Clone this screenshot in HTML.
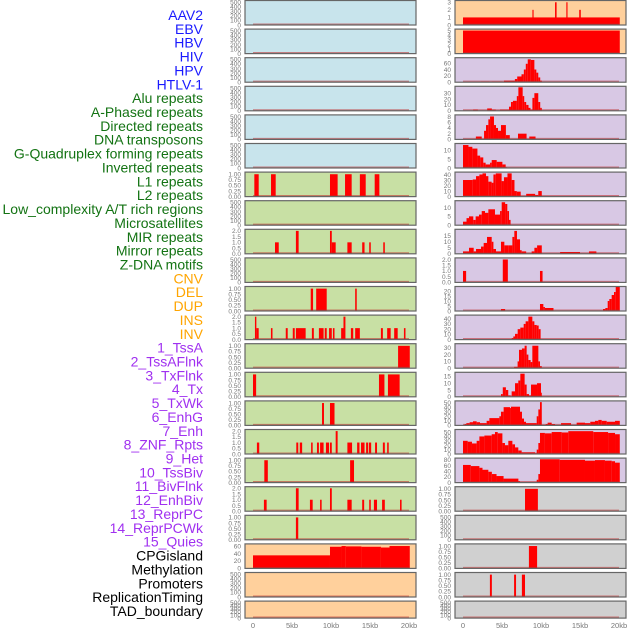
<!DOCTYPE html>
<html><head><meta charset="utf-8"><style>
html,body{margin:0;padding:0;background:#fff;width:630px;height:630px;overflow:hidden}
svg{display:block;font-family:"Liberation Sans",sans-serif}
</style></head><body>
<svg id="chart" width="630" height="630" viewBox="0 0 630 630" xmlns="http://www.w3.org/2000/svg">
<g id="labels"></g>
<g id="panels"></g>
<g id="xaxes"></g>
</svg>
<script>
// ---- labels ----
const labelNames = ["AAV2","EBV","HBV","HIV","HPV","HTLV-1","Alu repeats","A-Phased repeats","Directed repeats","DNA transposons","G-Quadruplex forming repeats","Inverted repeats","L1 repeats","L2 repeats","Low_complexity A/T rich regions","Microsatellites","MIR repeats","Mirror repeats","Z-DNA motifs","CNV","DEL","DUP","INS","INV","1_TssA","2_TssAFlnk","3_TxFlnk","4_Tx","5_TxWk","6_EnhG","7_Enh","8_ZNF_Rpts","9_Het","10_TssBiv","11_BivFlnk","12_EnhBiv","13_ReprPC","14_ReprPCWk","15_Quies","CPGisland","Methylation","Promoters","ReplicationTiming","TAD_boundary"];
const labelGroups = [6,13,5,15,5];
const groupColors = ["#1a1aff","#137313","#ffa500","#a030f0","#000000"];
const xTickValues = [0,5,10,15,20];
const xTickLabels = ["0","5kb","10kb","15kb","20kb"];

// ---- series (start kb, end kb, value) ----
const segL6 = [[0.17,0.73,1],[2.31,2.91,1],[9.87,10.85,1],[11.8,12.65,1],[13.7,14.45,1],[15.6,16.2,1]];
const segL8 = [[2.82,3.3,1],[5.5,5.85,2],[9.87,10.1,2],[10.1,10.6,1],[12.1,12.65,1],[14.0,14.3,1],[14.9,15.1,1],[16.7,16.9,1]];
const segL10 = [[7.4,7.7,1],[8.1,9.45,1],[13.1,13.3,1]];
const segL11 = [[0.25,0.43,2],[0.43,0.73,1],[2.3,2.5,1],[4.2,4.45,1],[5.1,5.35,1],[5.5,6.75,1],[7.55,7.8,1],[8.45,9.05,1],[9.2,9.45,1],[9.75,10.1,1],[10.25,10.45,1],[11.3,11.6,1],[11.6,11.85,2],[12.55,12.85,1],[13.1,13.7,1],[16.4,16.65,1],[17.2,17.65,1],[18.1,18.55,1],[19.35,19.55,1]];
const segL12 = [[18.6,20.1,1]];
const segL13 = [[0,0.4,1],[16.15,16.85,1],[17.3,18.8,1]];
const segL14 = [[8.85,9.1,1],[9.87,10.45,1]];
const segL15 = [[0.5,0.8,1],[5.55,5.8,1],[6.0,6.3,1],[7.45,7.65,1],[8.2,8.45,1],[8.6,9.05,1],[9.35,9.75,1],[9.87,10.1,1],[10.6,10.85,2],[12.1,12.7,1],[13.35,13.65,1],[13.85,14.3,1],[14.5,14.75,1],[14.85,15.15,1],[15.65,15.9,1],[16.65,16.9,1],[17.2,17.4,1]];
const segL16 = [[1.45,1.9,1],[12.45,12.95,1]];
const segL17 = [[1.4,1.75,1],[5.5,5.85,2],[7.3,7.65,1],[8.6,8.8,1],[9.87,10.1,2],[12.1,12.65,1],[14.0,14.25,1],[14.9,15.1,1],[15.5,15.9,1],[16.55,16.9,1],[18.85,19.05,1]];
const segL18 = [[5.5,5.8,1]];
const segL19 = [[0,9.87,35],[9.87,11.35,58],[11.35,11.9,60],[11.9,13.9,59],[13.9,16.4,58],[16.4,17.5,56],[17.5,20.1,60]];
const segR0 = [[0,20.1,1],[8.9,9.05,2],[11.8,12.0,3],[13.25,13.4,3],[14.9,15.1,2]];
const segR1 = [[0,20.1,5]];
const segR2 = [[2.3,3.35,2],[3.7,5.05,2],[5.25,6.65,5],[6.65,6.95,10],[6.95,7.5,18],[7.5,7.8,25],[7.8,8.05,40],[8.05,8.3,58],[8.3,8.7,72],[8.7,9.15,70],[9.15,9.4,40],[9.4,9.65,30],[9.65,9.9,15],[9.9,10.1,5]];
const segR3 = [[1.3,1.9,2],[3.1,3.7,4],[3.7,4.2,2],[4.75,5.9,2],[5.9,6.15,7],[6.15,6.4,15],[6.4,6.9,17],[6.9,7.1,25],[7.1,7.65,40],[7.65,7.85,25],[7.85,8.1,15],[8.1,8.4,10],[8.4,8.65,5],[8.65,8.9,2],[8.9,9.15,22],[9.15,9.65,30],[9.65,9.9,15],[9.9,10.1,5]];
const segR4 = [[1.65,2.4,1],[2.7,2.95,3],[2.95,3.25,5],[3.25,3.47,7],[3.47,3.97,8],[3.97,4.23,5],[4.23,4.49,4],[4.49,4.87,3],[4.87,5.5,5],[5.5,6.0,1.5],[7.05,8.15,2],[8.5,9.3,1]];
const segR5 = [[0,0.7,13],[0.7,1.2,12],[1.2,1.85,11],[1.85,2.2,7],[2.2,2.6,6],[2.6,2.9,3],[2.9,3.47,2],[3.47,3.68,3],[3.68,4.32,4.5],[4.32,5.05,3.5],[5.05,5.47,2],[5.47,5.6,0.5]];
const segR6 = [[0,1.25,30],[1.25,1.67,31],[1.67,2.1,37],[2.1,2.5,40],[2.5,2.95,42],[2.95,3.25,37],[3.25,3.67,27],[3.67,3.9,25],[3.9,4.2,40],[4.2,4.95,42],[4.95,5.25,28],[5.25,5.7,35],[5.7,6.24,42],[6.24,6.6,30],[6.6,6.9,10],[6.9,7.4,9],[8.1,9.25,5],[9.25,9.65,3],[9.65,10.1,10]];
const segR7 = [[0,0.45,2],[0.45,0.77,4],[0.77,1.32,5],[1.32,1.62,3],[1.62,2.05,5],[2.05,2.4,6],[2.4,2.82,8],[2.82,3.25,7],[3.25,4.1,9],[4.1,4.75,6],[4.75,4.96,8],[4.96,5.4,13],[5.4,5.68,12],[5.68,5.9,8],[5.9,6.1,3]];
const segR8 = [[0,0.77,2],[0.77,1.37,5],[1.37,1.67,2],[1.67,2.31,4],[2.31,2.65,6],[2.65,3.08,9],[3.08,3.68,14],[3.68,3.9,10],[3.9,4.23,4],[4.23,4.87,2],[4.87,5.3,10],[5.3,5.8,7],[5.8,6.33,7],[6.33,6.58,14],[6.58,6.92,19],[6.92,7.31,12],[7.31,7.52,3],[7.52,8.1,2],[8.8,9.15,2],[9.15,9.5,5],[9.5,10.1,7],[12.45,15.0,1.5],[16.15,17.1,2]];
const segR9 = [[0,0.4,1],[5.1,5.75,2],[9.87,10.2,1]];
const segR10 = [[4.87,5.4,2],[9.87,10.3,7],[10.3,10.5,4],[10.5,11.6,3],[17.95,18.25,2],[18.25,18.55,3],[18.55,18.76,10],[18.76,19.06,12],[19.06,19.36,16],[19.36,19.58,19],[19.58,20.1,24]];
const segR11 = [[6.25,6.45,3],[6.45,6.67,6],[6.67,7.01,11],[7.01,7.35,20],[7.35,7.78,23],[7.78,8.03,30],[8.03,8.38,35],[8.38,8.89,44],[8.89,9.15,35],[9.15,9.45,28],[9.45,9.7,27],[9.7,9.95,20]];
const segR12 = [[6.55,7.0,2],[7.0,7.18,10],[7.18,7.56,27],[7.56,7.9,29],[7.9,8.16,33],[8.16,8.38,20],[8.38,8.67,12],[8.67,8.89,9],[8.89,9.66,33],[9.66,9.87,10],[9.87,10.1,3]];
const segR13 = [[4.87,5.1,2],[5.1,5.5,7],[5.5,5.8,5],[5.8,6.1,1],[6.24,6.67,4],[6.67,7.09,10],[7.09,7.35,12],[7.35,7.9,17],[7.9,8.16,9],[8.16,8.46,2],[8.46,8.72,1],[8.72,9.49,9],[9.49,10.0,10],[10.0,10.1,3]];
const segR14 = [[0.2,0.43,3],[0.43,0.85,5],[0.85,1.28,7],[1.28,1.75,9],[1.75,2.18,7],[2.18,3.03,5],[3.03,3.38,10],[3.38,4.66,16],[4.66,4.87,20],[4.87,5.21,30],[5.21,6.03,40],[6.03,6.15,38],[6.15,7.31,41],[7.31,7.56,30],[7.56,7.82,15],[7.82,8.08,8],[8.08,9.45,5],[9.45,9.66,20],[9.66,9.87,35],[9.87,10.1,51],[10.6,10.85,3],[10.85,11.37,6],[11.37,11.8,3],[12.57,13.85,5],[14.57,15.64,6],[15.64,16.32,5],[16.32,16.92,8],[16.92,17.35,10],[17.35,17.78,12],[17.78,18.42,10],[18.42,19.49,8],[19.49,20.1,10]];
const segR15 = [[0,0.6,30],[0.6,1.15,28],[1.15,1.75,24],[1.75,2.1,30],[2.1,2.74,40],[2.74,3.68,42],[3.68,4.1,45],[4.1,4.45,50],[4.45,5.05,47],[5.05,5.38,25],[5.38,5.81,20],[5.81,6.33,30],[6.33,6.67,22],[6.67,7.09,15],[7.09,7.52,8],[7.52,9.23,4],[9.23,9.45,2],[9.45,9.66,10],[9.66,9.87,25],[9.87,10.5,48],[10.5,11.37,47],[11.37,12.65,50],[12.65,13.5,49],[13.5,16.7,52],[16.7,18.6,50],[18.6,19.49,48],[19.49,20.1,45]];
const segR16 = [[0,1.0,62],[1.0,2.1,58],[2.1,2.5,52],[2.5,3.25,45],[3.25,3.7,38],[3.7,4.3,30],[4.3,5.2,23],[5.2,7.1,14],[7.1,7.3,5],[9.45,9.66,10],[9.66,9.87,30],[9.87,12.4,82],[12.4,15.64,80],[15.64,16.92,77],[16.92,18.2,79],[18.2,19.06,77],[19.06,19.49,75],[19.49,20.1,70]];
const segR17 = [[7.95,9.6,1]];
const segR19 = [[8.45,9.5,1]];
const segR20 = [[3.45,3.7,1],[6.55,6.8,1],[7.55,7.95,1]];

const T500 = [0,100,200,300,400,500], T1 = [0,0.25,0.5,0.75,1], T2 = [0,0.5,1,1.5,2];
const BLUE="#c8e4ec", GREEN="#c8e0a4", ORANGE="#ffd09c", PURPLE="#d8c8e4", GRAY="#d0d0d0";
// [column,row,background,max,ticks,decimals,series]
const panels = [];
for(let i=0;i<6;i++) panels.push([0,i,BLUE,515,T500,0,[]]);
const leftGreen = {6:[1.05,T1,2,segL6],8:[2.05,T2,1,segL8],10:[1.05,T1,2,segL10],11:[2.05,T2,1,segL11],12:[1.05,T1,2,segL12],13:[1.05,T1,2,segL13],14:[1.05,T1,2,segL14],15:[2.05,T2,1,segL15],16:[1.05,T1,2,segL16],17:[2.05,T2,1,segL17],18:[1.05,T1,2,segL18]};
for(let i=6;i<19;i++){const g=leftGreen[i]; panels.push(g?[0,i,GREEN,g[0],g[1],g[2],g[3]]:[0,i,GREEN,515,T500,0,[]]);}
panels.push([0,19,ORANGE,63,[0,20,40,60],0,segL19]);
panels.push([0,20,ORANGE,515,T500,0,[]]);
panels.push([0,21,ORANGE,515,T500,0,[]]);
panels.push([1,0,ORANGE,3.1,[0,1,2,3],0,segR0]);
panels.push([1,1,ORANGE,5.1,[0,1,2,3,4,5],0,segR1]);
panels.push([1,2,PURPLE,74,[0,20,40,60],0,segR2]);
panels.push([1,3,PURPLE,40,[0,10,20,30],0,segR3]);
panels.push([1,4,PURPLE,8.2,[0,2,4,6,8],0,segR4]);
panels.push([1,5,PURPLE,13.3,[0,5,10],0,segR5]);
panels.push([1,6,PURPLE,42.5,[0,10,20,30,40],0,segR6]);
panels.push([1,7,PURPLE,13.3,[0,5,10],0,segR7]);
panels.push([1,8,PURPLE,19.5,[0,5,10,15],0,segR8]);
panels.push([1,9,PURPLE,2.05,T2,1,segR9]);
panels.push([1,10,PURPLE,23.5,[0,5,10,15,20],0,segR10]);
panels.push([1,11,PURPLE,45,[0,10,20,30,40],0,segR11]);
panels.push([1,12,PURPLE,34.5,[0,10,20,30],0,segR12]);
panels.push([1,13,PURPLE,17.3,[0,5,10,15],0,segR13]);
panels.push([1,14,PURPLE,51.5,[0,10,20,30,40,50],0,segR14]);
panels.push([1,15,PURPLE,53.5,[0,10,20,30,40,50],0,segR15]);
panels.push([1,16,PURPLE,82.5,[0,20,40,60,80],0,segR16]);
panels.push([1,17,GRAY,1.05,T1,2,segR17]);
panels.push([1,18,GRAY,515,T500,0,[]]);
panels.push([1,19,GRAY,1.05,T1,2,segR19]);
panels.push([1,20,GRAY,1.05,T1,2,segR20]);
panels.push([1,21,GRAY,515,T500,0,[]]);

const NS="http://www.w3.org/2000/svg";
function mk(tag,attrs,parent){const e=document.createElementNS(NS,tag);for(const k in attrs)e.setAttribute(k,attrs[k]);parent.appendChild(e);return e;}
function xScale(col,kb){return (col?463:253)+kb*7.8;}
function rowTop(r){return 0.5+r*28.6;}
function rowH(r){return r===21?17:24.5;}

// labels
const lg=document.getElementById('labels');
let li=0;
labelGroups.forEach((n,gi)=>{for(let k=0;k<n;k++){const t=mk('text',{x:203,y:20+li*13.86,'text-anchor':'end','font-size':'14',fill:groupColors[gi]},lg);


t.textContent=labelNames[li];li++;}});

const pg=document.getElementById('panels');
panels.forEach(p=>{
  const [col,row,bg,max,ticks,dec,segs]=p;
  const x0=col?455:245, w=171, top=rowTop(row), h=rowH(row), bot=top+h;
  const yS=v=>bot-(v/max)*(h-1);
  const g=mk('g',{},pg);
  
  
  mk('rect',{x:x0,y:top,width:w,height:h,fill:bg},g);
  segs.forEach(s=>{
    const r=mk('rect',{x:xScale(col,s[0]),y:yS(s[2]),width:Math.max(0.8,xScale(col,s[1])-xScale(col,s[0])),height:bot-yS(s[2]),fill:'#ff0000'},g);
    
    
  });
  mk('line',{x1:xScale(col,0),x2:xScale(col,20),y1:bot-0.8,y2:bot-0.8,stroke:'rgba(190,40,40,0.55)','stroke-width':1.5},g);
  mk('rect',{x:x0,y:top,width:w,height:h,fill:'none',stroke:'#666','stroke-width':1.2},g);
  ticks.forEach(v=>{
    const t=mk('text',{x:x0-4,y:yS(v)+2.3,'text-anchor':'end','font-size':'6.5',fill:'#777'},g);
    
    
    t.textContent=v.toFixed(dec);
  });
});

const xg=document.getElementById('xaxes');
[0,1].forEach(col=>{xTickValues.forEach((v,i)=>{
  const t=mk('text',{x:xScale(col,v),y:628,'text-anchor':'middle','font-size':'7.5',fill:'#777'},xg);
  
  
  t.textContent=xTickLabels[i];
});});
</script>
</body></html>
